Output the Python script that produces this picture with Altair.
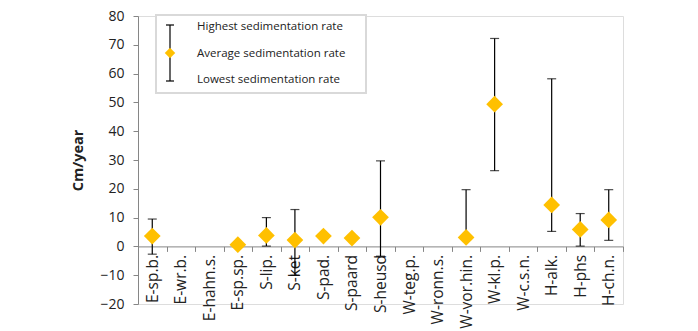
import altair as alt
import pandas as pd

categories = ["E-sp.b.", "E-wr.b.", "E-hahn.s.", "E-sp.sp.", "S-lip.", "S-ket", "S-pad.", "S-paard",
              "S-heusd", "W-teg.p.", "W-ronn.s.", "W-vor.hin.", "W-kl.p.", "W-c.s.n.", "H-alk.", "H-phs", "H-ch.n."]
avg_rate = [3.6, None, None, 0.6, 3.8, 2.2, 3.6, 2.9, 10.1, None, None, 3.1, 49.4, None, 14.4, 5.9, 9.2]
high_rate = [9.5, None, None, None, 10.0, 12.8, None, None, 29.7, None, None, 19.7, 72.2, None, 58.2, 11.4, 19.7]
low_rate = [-2.7, None, None, None, 0.1, -10.0, None, None, -3.4, None, None, 3.1, 26.3, None, 5.2, 0.1, 2.1]
y_ticks = [-20, -10, 0, 10, 20, 30, 40, 50, 60, 70, 80]
legend_labels = ["Highest sedimentation rate", "Average sedimentation rate", "Lowest sedimentation rate"]

FONT = "Open Sans"
W, H = 485, 288

df = pd.DataFrame({"cat": categories, "avg": avg_rate, "high": high_rate, "low": low_rate})
df_avg = df.dropna(subset=["avg"])
df_err = df.dropna(subset=["high", "low"])

xscale = alt.Scale(domain=categories, paddingInner=0, paddingOuter=0)
xaxis = alt.Axis(labelAngle=-90, offset=-57.6, tickBand="extent", tickSize=5,
                 domainColor="#868686", tickColor="#868686", labelFont=FONT,
                 labelFontSize=15.5, labelColor="#222", labelPadding=3, grid=False,
                 labelOverlap=False)
yscale = alt.Scale(domain=[-20, 80], nice=False, zero=False)
yaxis = alt.Axis(values=y_ticks, tickSize=5, domainColor="#868686", tickColor="#868686",
                 labelFont=FONT, labelFontSize=14, labelColor="#222", labelPadding=9, grid=False,
                 labelOverlap=False,
                 title="Cm/year", titleFont=FONT, titleFontSize=14.5, titleFontWeight="bold",
                 titleColor="#222", titlePadding=14)

X = alt.X("cat:N", title=None, scale=xscale, axis=xaxis)

def Y(field):
    return alt.Y(field, title="Cm/year", scale=yscale, axis=yaxis)

rules = alt.Chart(df_err).mark_rule(color="black", strokeWidth=1.2).encode(
    x=X, y=Y("low:Q"), y2="high:Q")
caps_hi = alt.Chart(df_err).mark_tick(color="black", orient="horizontal", size=9, thickness=1.2).encode(
    x=X, y=Y("high:Q"))
caps_lo = alt.Chart(df_err).mark_tick(color="black", orient="horizontal", size=9, thickness=1.2).encode(
    x=X, y=Y("low:Q"))
points = alt.Chart(df_avg).mark_point(shape="diamond", filled=True, color="#FFC000", size=280, opacity=1).encode(
    x=X, y=Y("avg:Q"))

one = pd.DataFrame({"k": [0]})
leg_box = alt.Chart(one).mark_rect(fill="white", stroke="#d9d9d9", strokeWidth=2).encode(
    x=alt.value(18), x2=alt.value(228), y=alt.value(-1), y2=alt.value(77))
leg_line = alt.Chart(one).mark_rule(color="black", strokeWidth=1.2).encode(
    x=alt.value(32), y=alt.value(9), y2=alt.value(65))
leg_cap1 = alt.Chart(one).mark_rule(color="black", strokeWidth=1.2).encode(
    x=alt.value(28), x2=alt.value(36), y=alt.value(9))
leg_cap2 = alt.Chart(one).mark_rule(color="black", strokeWidth=1.2).encode(
    x=alt.value(28), x2=alt.value(36), y=alt.value(65))
leg_pt = alt.Chart(one).mark_point(shape="diamond", filled=True, color="#FFC000", size=110, opacity=1).encode(
    x=alt.value(32), y=alt.value(37))
leg_texts = [
    alt.Chart(one).mark_text(align="left", baseline="middle", font=FONT, fontSize=11.5, color="#222", text=lab).encode(
        x=alt.value(59), y=alt.value(11 + i * 26.5))
    for i, lab in enumerate(legend_labels)
]

chart = alt.layer(rules, caps_hi, caps_lo, points, leg_box, leg_line, leg_cap1, leg_cap2, leg_pt, *leg_texts).properties(
    width=W, height=H, autosize=alt.AutoSizeParams(type="none"),
    padding={"left": 138, "top": 16, "right": 75, "bottom": 27}
).configure_view(stroke=None).configure(background="white")

chart.save("out.html", embed_options={"renderer": "svg", "actions": False})
